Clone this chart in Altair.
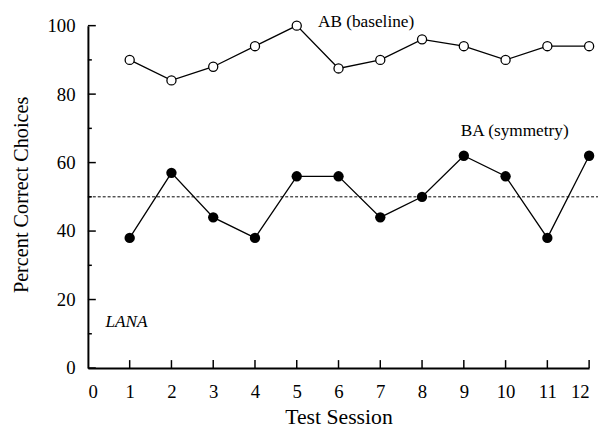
import altair as alt
import pandas as pd

sessions = [1, 2, 3, 4, 5, 6, 7, 8, 9, 10, 11, 12]
ab_baseline = [90, 84, 88, 94, 100, 87.5, 90, 96, 94, 90, 94, 94]
ba_symmetry = [38, 57, 44, 38, 56, 56, 44, 50, 62, 56, 38, 62]

x_ticks = [0, 1, 2, 3, 4, 5, 6, 7, 8, 9, 10, 11, 12]
y_major = [0, 20, 40, 60, 80, 100]
y_minor = [10, 30, 50, 70, 90]
chance = [50]

ann_text = ["AB (baseline)", "BA (symmetry)"]
ann_x = [6.66, 10.22]
ann_y = [99.7, 67.9]
subject = ["LANA"]
subject_x = [0.42]
subject_y = [12.0]

W, H = 508, 347
FONT = "Liberation Serif"

df = pd.DataFrame({"session": sessions, "ab": ab_baseline, "ba": ba_symmetry})
xs = alt.Scale(domain=[0, 12], nice=False, zero=False)
ys = alt.Scale(domain=[0, 100], nice=False)

x_axis = alt.Axis(values=x_ticks, ticks=False, domainWidth=2, domainColor="black",
                  labelFont=FONT, labelFontSize=19, labelColor="black", labelPadding=15,
                  grid=False, titleFont=FONT, titleFontSize=22,
                  titleFontWeight="normal", titleColor="black", titleBaseline="alphabetic",
                  titleX=W / 2, titleY=56.5, titleAlign="center")
y_axis = alt.Axis(values=y_major, ticks=False, domainWidth=2, domainColor="black",
                  labelFont=FONT, labelFontSize=19, labelColor="black", labelPadding=13,
                  grid=False, titleFont=FONT, titleFontSize=20.5,
                  titleFontWeight="normal", titleColor="black", titleBaseline="alphabetic",
                  titleAngle=270, titleX=-61.7, titleY=171, titleAlign="center")
XT = "Test Session"
YT = "Percent Correct Choices"


def X(f):
    return alt.X(f, scale=xs, axis=x_axis, title=XT)


def Y(f):
    return alt.Y(f, scale=ys, axis=y_axis, title=YT)


base = alt.Chart(df)

ab_line = base.mark_line(color="black", strokeWidth=1.3).encode(x=X("session:Q"), y=Y("ab:Q"))
ab_pts = base.mark_point(shape="circle", filled=True, fill="white", stroke="black",
                         strokeWidth=1.3, size=85, opacity=1).encode(x=X("session:Q"), y=Y("ab:Q"))
ba_line = base.mark_line(color="black", strokeWidth=1.3).encode(x=X("session:Q"), y=Y("ba:Q"))
ba_pts = base.mark_circle(color="black", size=110, opacity=1).encode(x=X("session:Q"), y=Y("ba:Q"))

chance_rule = alt.Chart(pd.DataFrame({"v": chance})).mark_rule(
    color="black", strokeWidth=1, strokeDash=[3, 2], clip=False).encode(
    y=Y("v:Q"), x=alt.value(0), x2=alt.value(W + 9))

ymaj = alt.Chart(pd.DataFrame({"v": y_major})).mark_rule(color="black", strokeWidth=1.5).encode(
    y=Y("v:Q"), x=alt.value(0), x2=alt.value(8))
ymin = alt.Chart(pd.DataFrame({"v": y_minor})).mark_rule(color="black", strokeWidth=1.5).encode(
    y=Y("v:Q"), x=alt.value(0), x2=alt.value(4))
xtk = alt.Chart(pd.DataFrame({"v": x_ticks[1:]})).mark_rule(color="black", strokeWidth=1.5).encode(
    x=X("v:Q"), y=alt.value(H), y2=alt.value(H - 8))

labels = alt.Chart(pd.DataFrame({"t": ann_text, "x": ann_x, "y": ann_y})).mark_text(
    font=FONT, fontSize=17.5, color="black", align="center", baseline="alphabetic").encode(
    x=X("x:Q"), y=Y("y:Q"), text="t:N")
lana = alt.Chart(pd.DataFrame({"t": subject, "x": subject_x, "y": subject_y})).mark_text(
    font=FONT, fontSize=17.5, fontStyle="italic", color="black", align="left",
    baseline="alphabetic").encode(
    x=X("x:Q"), y=Y("y:Q"), text="t:N")

chart = alt.layer(
    ab_line, chance_rule, ymaj, ymin, xtk, ab_pts, ba_line, ba_pts, labels, lana
).properties(
    width=W, height=H,
    autosize=alt.AutoSizeParams(type="none"),
    padding={"left": 81, "top": 15, "right": 9, "bottom": 64},
    background="white",
).configure_view(stroke=None)

chart.save("out.html", embed_options={"renderer": "svg", "actions": False})
